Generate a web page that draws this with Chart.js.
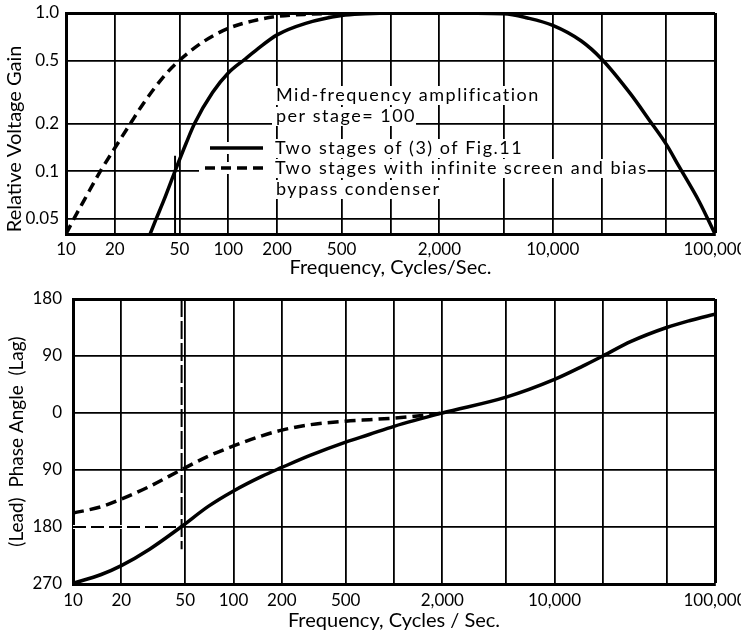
<!DOCTYPE html>
<html>
<head>
<meta charset="utf-8">
<script src="https://cdn.jsdelivr.net/npm/chart.js@4.4.1/dist/chart.umd.min.js"></script>
<style>
  html, body { margin: 0; padding: 0; background: #fff; }
  #gain-chart { position: absolute; left: 0; top: 0; }
  #phase-chart { position: absolute; left: 0; top: 290px; }
</style>
</head>
<body>
<canvas id="gain-chart" width="741" height="290"></canvas>
<canvas id="phase-chart" width="741" height="343"></canvas>
<script>
// Frequency axis (shared by both panels)
const freqTicks = [10, 20, 50, 100, 200, 500, 1000, 2000, 5000, 10000, 20000, 50000, 100000];
const freqLabels = ['10', '20', '50', '100', '200', '500', '', '2,000', '', '10,000', '', '', '100,000'];

// Upper panel: relative voltage gain
const gainTicks = [1.0, 0.5, 0.2, 0.1, 0.05];
const gainLabels = ['1.0', '0.5', '0.2', '0.1', '0.05'];
const gainSolidFreq = [33, 36, 40, 47, 55, 62, 80, 100, 126, 150, 200, 300, 500, 700, 1000, 2000, 5000, 7000, 10000, 15000, 20000, 30000, 39400, 50000, 60000, 80000, 100000];
const gainSolid = [0.04, 0.05, 0.065, 0.1, 0.15, 0.2, 0.314, 0.417, 0.508, 0.587, 0.727, 0.86, 0.964, 0.988, 1.0, 1.0, 0.99, 0.93, 0.835, 0.665, 0.512, 0.31, 0.21, 0.148, 0.107, 0.064, 0.04];
const gainDashedFreq = [10, 11.2, 13, 16.2, 20, 24.8, 30, 40, 49, 70, 100, 150, 200, 300, 500, 1000];
const gainDashed = [0.04, 0.05, 0.066, 0.099, 0.14, 0.198, 0.268, 0.396, 0.492, 0.657, 0.799, 0.904, 0.951, 0.981, 0.996, 1.0];
const gainMarkFreq = [47, 47];
const gainMark = [0.125, 0.04];

// Lower panel: phase angle (lag positive, lead negative)
const phaseTicks = [180, 90, 0, -90, -180, -270];
const phaseLabels = ['180', '90', '0', '90', '180', '270'];
const phaseSolidFreq = [10, 15, 20, 30, 47, 70, 100, 150, 200, 300, 500, 700, 1000, 2000, 5000, 10000, 15000, 20000, 30000, 50000, 70000, 100000];
const phaseSolid = [-269, -255, -241, -215, -180, -147, -123, -100, -86, -67, -46, -34, -21, 0, 25, 53, 74, 90, 113, 135, 146, 156];
const phaseDashedFreq = [10, 15, 20, 30, 47, 70, 100, 150, 200, 300, 500, 700, 1000, 1500, 2000];
const phaseDashed = [-158, -148, -136, -116, -90, -68, -52, -36, -27, -18.5, -13, -10.5, -8, -4, 0];
const phaseMarkVFreq = [47.5, 47.5];
const phaseMarkV = [180, -215];
const phaseMarkHFreq = [10, 47.5];
const phaseMarkH = [-180, -180];

const seriesNames = ['Two stages of (3) of Fig.11', 'Two stages with infinite screen and bias bypass condenser'];

const noteRows = [
    { text: 'Mid-frequency amplification', x: 276, y: 95 },
    { text: 'per stage= 100', x: 276, y: 116 },
    { text: 'Two stages of (3) of Fig.11', x: 275, y: 148, sample: 0, from: 210 },
    { text: 'Two stages with infinite screen and bias', x: 275, y: 168, sample: 1, from: 205 },
    { text: 'bypass condenser', x: 276, y: 189 }
];

Chart.defaults.font.family = 'Lato, "DejaVu Sans", sans-serif';
Chart.defaults.font.size = 17;
Chart.defaults.color = '#000';

const titleFont = { size: 20 };
const noteFont = '18px Lato, "DejaVu Sans", sans-serif';
const noteSpacing = '1.5px';

function toPoints(xs, ys) {
    return xs.map((x, i) => ({ x: x, y: ys[i] }));
}

// Text block and line samples inside the gain panel
const gainNotes = {
    id: 'gainNotes',
    beforeDatasetsDraw(chart) {
        const ctx = chart.ctx;
        ctx.save();
        ctx.font = noteFont;
        ctx.letterSpacing = noteSpacing;
        ctx.fillStyle = '#fff';
        noteRows.forEach(r => {
            const w = ctx.measureText(r.text).width;
            ctx.fillRect(r.x - 4, r.y - 9, w + 4, 19);
            if (r.sample !== undefined) {
                ctx.fillRect(r.from - 6, r.y - 6, r.x - r.from + 4, 12);
            }
        });
        ctx.restore();
    },
    afterDatasetsDraw(chart) {
        const ctx = chart.ctx;
        ctx.save();
        ctx.font = noteFont;
        ctx.letterSpacing = noteSpacing;
        ctx.fillStyle = '#000';
        ctx.textBaseline = 'middle';
        ctx.textAlign = 'left';
        noteRows.forEach(r => {
            ctx.fillText(r.text, r.x, r.y);
            if (r.sample !== undefined) {
                const ds = chart.data.datasets[r.sample];
                ctx.strokeStyle = ds.borderColor;
                ctx.lineWidth = ds.borderWidth;
                ctx.setLineDash(ds.borderDash || []);
                ctx.beginPath();
                ctx.moveTo(r.from, r.y);
                ctx.lineTo(263, r.y);
                ctx.stroke();
            }
        });
        ctx.restore();
    }
};

function freqAxis(title, height, labelPad, titlePad) {
    return {
        type: 'logarithmic',
        min: 10,
        max: 100000,
        afterBuildTicks: function(scale) {
            scale.ticks = freqTicks.map(v => ({ value: v }));
        },
        afterFit: function(scale) {
            scale.height = height;
            scale.paddingLeft = 0;
            scale.paddingRight = 0;
        },
        ticks: {
            autoSkip: false,
            maxRotation: 0,
            padding: labelPad,
            callback: function(value, index) {
                return freqLabels[index];
            }
        },
        grid: {
            color: '#000',
            drawTicks: false,
            lineWidth: ctx => (ctx.tick && ctx.tick.value === 100000 ? 3 : 1.8)
        },
        border: { color: '#000', width: 3 },
        title: {
            display: true,
            text: title,
            font: titleFont,
            padding: { top: 0, bottom: titlePad }
        }
    };
}

const curveStyle = {
    borderColor: '#000',
    borderWidth: 3.5,
    pointRadius: 0,
    cubicInterpolationMode: 'monotone'
};

// Upper panel
new Chart(document.getElementById('gain-chart').getContext('2d'), {
    type: 'line',
    data: {
        datasets: [
            Object.assign({ label: seriesNames[0], data: toPoints(gainSolidFreq, gainSolid), order: 0 }, curveStyle),
            Object.assign({ label: seriesNames[1], data: toPoints(gainDashedFreq, gainDashed), borderDash: [10, 6], order: 1 }, curveStyle),
            {
                label: 'marker',
                data: toPoints(gainMarkFreq, gainMark),
                borderColor: '#000',
                borderWidth: 2,
                pointRadius: 0,
                order: 2
            }
        ]
    },
    options: {
        responsive: false,
        animation: false,
        devicePixelRatio: 1,
        layout: { padding: { top: 13, right: 26, left: 0, bottom: 0 } },
        plugins: { legend: { display: false }, tooltip: { enabled: false } },
        scales: {
            x: freqAxis('Frequency, Cycles/Sec.', 56, 5, 10),
            y: {
                type: 'logarithmic',
                min: 0.04,
                max: 1.0,
                afterBuildTicks: function(scale) {
                    scale.ticks = gainTicks.map(v => ({ value: v }));
                },
                afterFit: function(scale) {
                    scale.width = 66;
                    scale.paddingTop = 0;
                    scale.paddingBottom = 0;
                },
                ticks: {
                    padding: 7,
                    callback: function(value, index) {
                        return gainLabels[index];
                    }
                },
                grid: {
                    color: '#000',
                    drawTicks: false,
                    lineWidth: ctx => (ctx.tick && ctx.tick.value === 1.0 ? 3 : 1.8)
                },
                border: { color: '#000', width: 3 },
                title: {
                    display: true,
                    text: 'Relative Voltage Gain      ',
                    font: titleFont,
                    padding: { top: 3, bottom: 0 }
                }
            }
        }
    },
    plugins: [gainNotes]
});

// Lower panel
new Chart(document.getElementById('phase-chart').getContext('2d'), {
    type: 'line',
    data: {
        datasets: [
            Object.assign({ label: seriesNames[0], data: toPoints(phaseSolidFreq, phaseSolid), order: 0 }, curveStyle),
            Object.assign({ label: seriesNames[1], data: toPoints(phaseDashedFreq, phaseDashed), borderDash: [11, 6], order: 1 }, curveStyle),
            {
                label: 'marker',
                data: toPoints(phaseMarkVFreq, phaseMarkV),
                borderColor: '#000',
                borderWidth: 2,
                borderDash: [18, 4],
                pointRadius: 0,
                order: 2
            },
            {
                label: 'marker',
                data: toPoints(phaseMarkHFreq, phaseMarkH),
                borderColor: '#000',
                borderWidth: 2,
                borderDash: [13, 5],
                pointRadius: 0,
                order: 3
            },
            {
                // hides the plain grid line under the dashed 180 lead line
                label: 'mask',
                data: toPoints(phaseMarkHFreq, phaseMarkH),
                borderColor: '#fff',
                borderWidth: 4,
                pointRadius: 0,
                order: 4
            }
        ]
    },
    options: {
        responsive: false,
        animation: false,
        devicePixelRatio: 1,
        layout: { padding: { top: 9, right: 26, left: 0, bottom: 0 } },
        plugins: { legend: { display: false }, tooltip: { enabled: false } },
        scales: {
            x: freqAxis('Frequency, Cycles / Sec.', 49, 6, 0),
            y: {
                type: 'linear',
                min: -270,
                max: 180,
                afterBuildTicks: function(scale) {
                    scale.ticks = phaseTicks.map(v => ({ value: v }));
                },
                afterFit: function(scale) {
                    scale.width = 73;
                    scale.paddingTop = 0;
                    scale.paddingBottom = 0;
                },
                ticks: {
                    padding: 11,
                    callback: function(value, index) {
                        return phaseLabels[index];
                    }
                },
                grid: {
                    color: '#000',
                    drawTicks: false,
                    lineWidth: ctx => (ctx.tick && ctx.tick.value === 180 ? 3 : 1.8)
                },
                border: { color: '#000', width: 3 },
                title: {
                    display: true,
                    text: '(Lead)  Phase Angle  (Lag)',
                    font: { size: 19 },
                    padding: { top: 5, bottom: 0 }
                }
            }
        }
    }
});
</script>
</body>
</html>
